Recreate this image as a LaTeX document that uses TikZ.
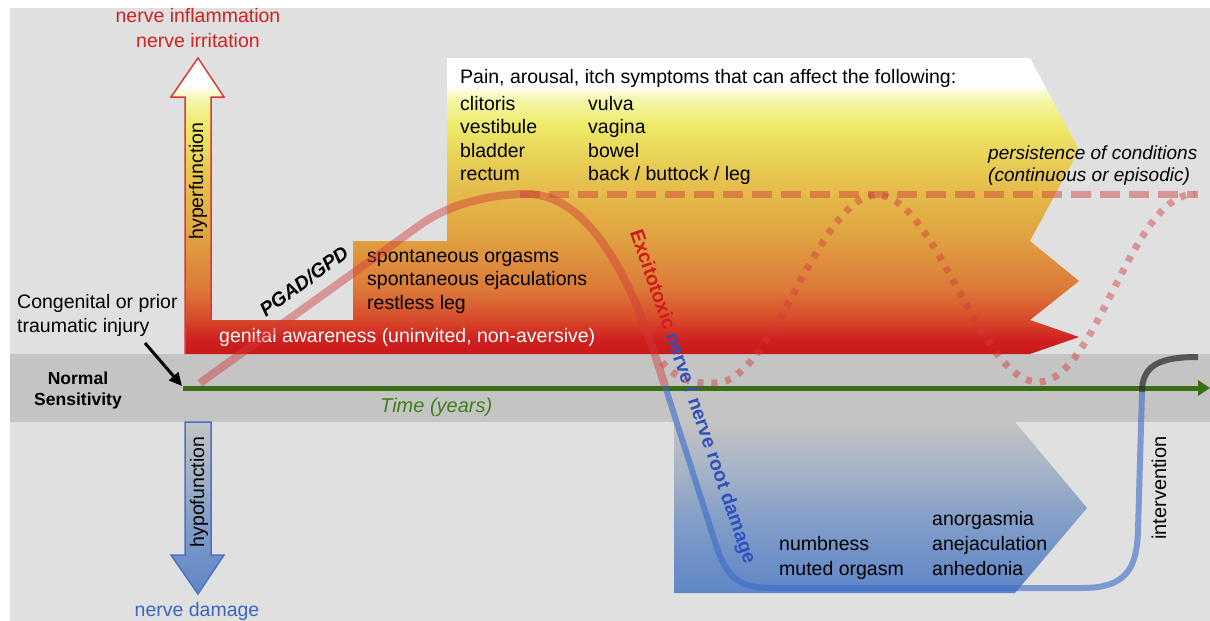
\documentclass[tikz,border=0pt]{standalone}
\usepackage{fontspec}
\setmainfont{Liberation Sans}
\usetikzlibrary{arrows.meta}
\definecolor{bggray}{HTML}{E0E0E0}
\definecolor{bandgray}{HTML}{C4C4C4}
\definecolor{hA}{HTML}{C81818}
\definecolor{hB}{HTML}{D02020}
\definecolor{hC}{HTML}{D84A2A}
\definecolor{hD}{HTML}{DC7838}
\definecolor{hE}{HTML}{E0A040}
\definecolor{hF}{HTML}{E6C850}
\definecolor{hG}{HTML}{EEEA6A}
\definecolor{hH}{HTML}{F4F6A8}
\definecolor{bA}{HTML}{5F86C6}
\definecolor{bB}{HTML}{6E90C8}
\definecolor{bC}{HTML}{839EC8}
\definecolor{bD}{HTML}{A6B3C6}
\definecolor{bE}{HTML}{B8BCC4}
\definecolor{bF}{HTML}{C4C4C4}
\definecolor{txred}{HTML}{D42020}
\definecolor{txblue}{HTML}{3A66C0}
\definecolor{txgreen}{HTML}{3F7F1A}
\definecolor{axgreen}{HTML}{3A6E14}
\definecolor{exred}{HTML}{D01C1C}
\definecolor{exblue}{HTML}{3050C0}
\definecolor{crvred}{HTML}{D03A3A}
\definecolor{crvblue}{HTML}{3A6CC8}
\definecolor{crvgray}{HTML}{303030}
\definecolor{outred}{HTML}{D83A3A}
\definecolor{outblue}{HTML}{4A72C4}
\pgfdeclareverticalshading{hypershade}{100bp}{color(0bp)=(hA); color(25bp)=(hA); color(27.5bp)=(hB); color(30.9bp)=(hC); color(35.9bp)=(hD); color(44.4bp)=(hE); color(56.1bp)=(hF); color(63.7bp)=(hG); color(67.9bp)=(hH); color(70.5bp)=(white); color(75bp)=(white); color(100bp)=(white)}
\pgfdeclareverticalshading{blueshade}{100bp}{color(0bp)=(bA); color(25bp)=(bA); color(34.6bp)=(bB); color(46.3bp)=(bC); color(61bp)=(bD); color(69.7bp)=(bE); color(75bp)=(bF); color(100bp)=(bF)}
\newcommand\fsz{\fontsize{19.5pt}{23.4pt}\selectfont}
\newcommand\fsi{\fontsize{19pt}{23pt}\selectfont\itshape}
\begin{document}
\begin{tikzpicture}[x=1pt,y=-1pt,
  txt/.style={font=\fsz,inner sep=0pt,anchor=base west,text=black},
  ctxt/.style={font=\fsz,inner sep=0pt,anchor=base},
  redcurve/.style={draw=crvred,draw opacity=0.45,line width=8pt},
  bluecurve/.style={draw=crvblue,draw opacity=0.6,line width=6pt},
  graycurve/.style={draw=crvgray,draw opacity=0.75,line width=6pt},
  dashline/.style={draw=crvred,draw opacity=0.45,line width=7pt,dash pattern=on 20pt off 9pt},
  dotline/.style={draw=crvred,draw opacity=0.45,line width=7pt,dash pattern=on 6pt off 8pt}]
\useasboundingbox (0,0) rectangle (1210,621);
\fill[white] (0,0) rectangle (1210,621);
\fill[bggray] (10,8) rectangle (1210,621);
\fill[bandgray] (10,354) rectangle (1210,422);
% hyperfunction arrow + symptom area
\shade[shading=hypershade] (185,354) -- (185,97) -- (171,97) -- (198,58) -- (224,97) -- (211,97) -- (211,320) -- (353,320) -- (353,241) -- (447,241) -- (447,58) -- (1030,58) -- (1079,150) -- (1030,241) -- (1079,281) -- (1030,320) -- (1079,337) -- (1030,354) -- cycle;
\draw[outred,line width=1.5pt,line join=miter] (185,354) -- (185,97) -- (171,97) -- (198,58) -- (224,97) -- (211,97) -- (211,320);
% hypo area
\shade[shading=blueshade] (674,422) -- (1015,422) -- (1087,508) -- (1015,593) -- (674,593) -- cycle;
\shadedraw[shading=blueshade,draw=outblue,line width=1.5pt] (185,422) -- (211,422) -- (211,555) -- (224,555) -- (198,594) -- (171,555) -- (185,555) -- cycle;
% texts
\node[ctxt,text=txred] (ni1) at (198,23) {nerve inflammation};
\node[ctxt,text=txred] (ni2) at (198,47) {nerve irritation};
\node[txt] (pain) at (460,83) {Pain, arousal, itch symptoms that can affect the following:};
\node[txt] (s1) at (460,110) {clitoris};
\node[txt] (s2) at (460,133) {vestibule};
\node[txt] (s3) at (460,157) {bladder};
\node[txt] (s4) at (460,180) {rectum};
\node[txt] (s5) at (588,110) {vulva};
\node[txt] (s6) at (588,133) {vagina};
\node[txt] (s7) at (588,157) {bowel};
\node[txt] (s8) at (588,180) {back / buttock / leg};
\node[txt,font=\fsi] (per1) at (988,159) {persistence of conditions};
\node[txt,font=\fsi] (per2) at (988,181) {(continuous or episodic)};
\node[txt] (sp1) at (367,262) {spontaneous orgasms};
\node[txt] (sp2) at (367,285) {spontaneous ejaculations};
\node[txt] (sp3) at (367,309) {restless leg};
\node[txt,text=white] (ga) at (219,342) {genital awareness (uninvited, non-aversive)};
\node[font=\fsz\bfseries\itshape,inner sep=0pt,rotate=36] (pgad) at (304,281) {PGAD/GPD};
\node[txt] (cg1) at (17,308) {Congenital or prior};
\node[txt] (cg2) at (17,332) {traumatic injury};
\node[ctxt,font=\fontsize{17.5pt}{21pt}\selectfont\bfseries] (ns1) at (78,384) {Normal};
\node[ctxt,font=\fontsize{17.5pt}{21pt}\selectfont\bfseries] (ns2) at (78,405) {Sensitivity};
\node[txt,font=\fontsize{20pt}{24pt}\selectfont\itshape,text=txgreen] (time) at (380,412) {Time (years)};
\node[ctxt,rotate=90] (hyper) at (203,181) {hyperfunction};
\node[ctxt,rotate=90] (hypo) at (204,492) {hypofunction};
\node[ctxt,text=txblue] (nd) at (197,616) {nerve damage};
\node[txt] (nb1) at (779,550) {numbness};
\node[txt] (nb2) at (779,575) {muted orgasm};
\node[txt] (an1) at (932,525) {anorgasmia};
\node[txt] (an2) at (932,550) {anejaculation};
\node[txt] (an3) at (932,575) {anhedonia};
\node[ctxt,font=\fontsize{20pt}{24pt}\selectfont,rotate=90] (interv) at (1166,488) {intervention};
% time axis
\coordinate (t0) at (183,388);
\coordinate (tend) at (1210,388);
\draw[axgreen,line width=5pt,-{Triangle[length=12pt,width=15pt]}] (t0) -- (tend);
\coordinate (injS) at (145,343);
\coordinate (injE) at (182,386);
\draw[black,line width=3pt,-{Triangle[length=13pt,width=12pt]}] (injS) -- (injE);
% curves
\path[dashline] (520,194) -- (1198,194);
\path[dotline] (662,362) .. controls (680,383) and (695,383) .. (715,383) .. controls (774,383) and (818,195) .. (877,195) .. controls (936,195) and (979,382) .. (1038,382) .. controls (1097,382) and (1130,194) .. (1195,194);
\path[redcurve] (200,383) -- (420,225) .. controls (452,202) and (495,194) .. (527,194) .. controls (585,194) and (627,269) .. (655,355) -- (665,386);
\path[bluecurve] (665,386) -- (717,548) .. controls (730,585) and (745,588) .. (778,588) -- (1082,588) .. controls (1125,588) and (1137,570) .. (1138,530) -- (1142,392);
\path[graycurve] (1142,392) .. controls (1142,365) and (1160,357) .. (1198,357);
% excitotoxic label
\node[font=\fsz\bfseries,inner sep=0pt,rotate=-71] (exc) at (692,397) {\textcolor{exred}{Excitotoxic} \textcolor{exblue}{nerve / nerve root damage}};
\end{tikzpicture}
\end{document}
